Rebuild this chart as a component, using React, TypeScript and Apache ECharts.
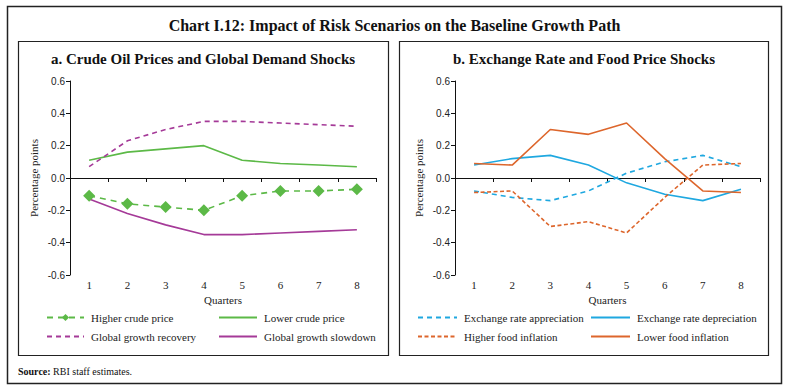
import React, { useEffect, useRef } from "react";
import * as echarts from "echarts";

const categories = ["1", "2", "3", "4", "5", "6", "7", "8"];
const yTicks = [-0.6, -0.4, -0.2, 0.0, 0.2, 0.4, 0.6];

const higherCrude = [-0.11, -0.16, -0.18, -0.2, -0.11, -0.08, -0.08, -0.07];
const lowerCrude = [0.11, 0.16, 0.18, 0.2, 0.11, 0.09, 0.08, 0.07];
const growthRecovery = [0.07, 0.23, 0.3, 0.35, 0.35, 0.34, 0.33, 0.32];
const growthSlowdown = [-0.13, -0.22, -0.29, -0.35, -0.35, -0.34, -0.33, -0.32];

const erAppreciation = [-0.08, -0.12, -0.14, -0.08, 0.03, 0.1, 0.14, 0.07];
const erDepreciation = [0.08, 0.12, 0.14, 0.08, -0.03, -0.1, -0.14, -0.07];
const higherFood = [-0.09, -0.08, -0.3, -0.27, -0.34, -0.12, 0.08, 0.09];
const lowerFood = [0.09, 0.08, 0.3, 0.27, 0.34, 0.12, -0.08, -0.09];

const GREEN = "#5cb947";
const PURPLE = "#a53a98";
const BLUE = "#1fa8e0";
const ORANGE = "#dd662c";
const SERIF = "'Liberation Serif', 'DejaVu Serif', serif";
const SANS = "'Liberation Sans', Arial, sans-serif";
const INK = "#222";

function zeroAxis(gridIndex: number) {
  return {
    type: "category",
    gridIndex,
    data: categories,
    position: "bottom",
    boundaryGap: true,
    axisLine: { show: true, onZero: true, lineStyle: { color: "#111", width: 1 } },
    axisTick: { show: true, length: 4, alignWithLabel: false, lineStyle: { color: "#111", width: 1 } },
    axisLabel: { show: false },
    splitLine: { show: false },
  };
}

function labelAxis(gridIndex: number) {
  return {
    type: "category",
    gridIndex,
    data: categories,
    position: "bottom",
    boundaryGap: true,
    axisLine: { show: false, onZero: false },
    axisTick: { show: false },
    axisLabel: { show: true, margin: 4, fontFamily: SERIF, fontSize: 11, color: INK },
    name: "Quarters",
    nameLocation: "middle",
    nameGap: 19,
    nameTextStyle: { fontFamily: SERIF, fontSize: 11, color: INK },
    splitLine: { show: false },
  };
}

function valueAxis(gridIndex: number) {
  return {
    type: "value",
    gridIndex,
    min: yTicks[0],
    max: yTicks[yTicks.length - 1],
    interval: 0.2,
    axisLine: { show: true, lineStyle: { color: "#111", width: 1 } },
    axisTick: { show: true, length: 4, lineStyle: { color: "#111", width: 1 } },
    axisLabel: {
      margin: 5,
      fontFamily: SANS,
      fontSize: 10,
      color: INK,
      formatter: (v: number) => v.toFixed(1),
    },
    splitLine: { show: false },
    name: "Percentage points",
    nameLocation: "middle",
    nameGap: 31,
    nameTextStyle: { fontFamily: SERIF, fontSize: 11, color: INK },
  };
}

function lineSeries(
  name: string,
  data: number[],
  color: string,
  xAxisIndex: number,
  yAxisIndex: number,
  dash: number[] | "solid",
  diamond = false
) {
  return {
    type: "line",
    name,
    data,
    xAxisIndex,
    yAxisIndex,
    symbol: diamond ? "diamond" : "none",
    symbolSize: diamond ? 12 : 0,
    showSymbol: diamond,
    itemStyle: { color },
    lineStyle: { color, width: 1.6, type: dash },
    z: 3,
  };
}

function legendAt(name: string, left: number, top: number, itemWidth = 38, marker = false) {
  return {
    data: [name],
    left,
    top,
    itemWidth,
    itemHeight: 9,
    itemGap: 0,
    padding: 0,
    selectedMode: false,
    itemStyle: marker ? {} : { opacity: 0 },
    textStyle: { fontFamily: SERIF, fontSize: 11, color: INK, padding: [0, 0, 0, 2] },
  };
}

export default function App() {
  const ref = useRef<HTMLDivElement>(null);

  useEffect(() => {
    if (!ref.current) return;
    const chart = echarts.init(ref.current, null, { renderer: "svg" });
    const option: any = {
      animation: false,
      backgroundColor: "#fff",
      grid: [
        { left: 70, top: 81, width: 306, height: 194 },
        { left: 455, top: 81, width: 305, height: 194 },
      ],
      xAxis: [zeroAxis(0), labelAxis(0), zeroAxis(1), labelAxis(1)],
      yAxis: [valueAxis(0), valueAxis(1)],
      legend: [
        legendAt("Higher crude price", 46, 312, 37, true),
        legendAt("Lower crude price", 218, 312, 38),
        legendAt("Global growth recovery", 46, 331, 37),
        legendAt("Global growth slowdown", 218, 331, 38),
        legendAt("Exchange rate appreciation", 417, 312, 39),
        legendAt("Exchange rate depreciation", 590, 312, 39),
        legendAt("Higher food inflation", 417, 331, 39),
        legendAt("Lower food inflation", 590, 331, 39),
      ],
      series: [
        lineSeries("Higher crude price", higherCrude, GREEN, 0, 0, [6, 5], true),
        lineSeries("Lower crude price", lowerCrude, GREEN, 0, 0, "solid"),
        lineSeries("Global growth recovery", growthRecovery, PURPLE, 0, 0, [5, 4]),
        lineSeries("Global growth slowdown", growthSlowdown, PURPLE, 0, 0, "solid"),
        lineSeries("Exchange rate appreciation", erAppreciation, BLUE, 2, 1, [5, 4]),
        lineSeries("Exchange rate depreciation", erDepreciation, BLUE, 2, 1, "solid"),
        lineSeries("Higher food inflation", higherFood, ORANGE, 2, 1, [4, 2.5]),
        lineSeries("Lower food inflation", lowerFood, ORANGE, 2, 1, "solid"),
      ],
      graphic: [
        {
          type: "rect",
          shape: { x: 7.5, y: 6.5, width: 774, height: 377 },
          style: { fill: "none", stroke: "#222", lineWidth: 1.5 },
          silent: true,
        },
        {
          type: "rect",
          shape: { x: 18.5, y: 41.5, width: 370, height: 314 },
          style: { fill: "none", stroke: "#222", lineWidth: 1.2 },
          silent: true,
        },
        {
          type: "rect",
          shape: { x: 399.5, y: 41.5, width: 369, height: 314 },
          style: { fill: "none", stroke: "#222", lineWidth: 1.2 },
          silent: true,
        },
        {
          type: "text",
          x: 394.5,
          y: 25,
          style: {
            text: "Chart I.12: Impact of Risk Scenarios on the Baseline Growth Path",
            fontFamily: SERIF,
            fontWeight: "bold",
            fontSize: 16,
            fill: "#111",
            textAlign: "center",
            textVerticalAlign: "middle",
          },
        },
        {
          type: "text",
          x: 203,
          y: 59,
          style: {
            text: "a. Crude Oil Prices and Global Demand Shocks",
            fontFamily: SERIF,
            fontWeight: "bold",
            fontSize: 15,
            fill: "#111",
            textAlign: "center",
            textVerticalAlign: "middle",
          },
        },
        {
          type: "text",
          x: 584,
          y: 59,
          style: {
            text: "b. Exchange Rate and Food Price Shocks",
            fontFamily: SERIF,
            fontWeight: "bold",
            fontSize: 15,
            fill: "#111",
            textAlign: "center",
            textVerticalAlign: "middle",
          },
        },
        {
          type: "text",
          x: 18,
          y: 371,
          style: {
            text: "{b|Source:} RBI staff estimates.",
            rich: {
              b: { fontFamily: SERIF, fontWeight: "bold", fontSize: 10, fill: "#111" },
            },
            fontFamily: SERIF,
            fontSize: 10,
            fill: "#111",
            textVerticalAlign: "middle",
          },
        },
      ],
    };
    chart.setOption(option);
    return () => chart.dispose();
  }, []);

  return (
    <div
      ref={ref}
      style={{ position: "fixed", left: 0, top: 0, width: 789, height: 389, background: "#fff" }}
    />
  );
}
